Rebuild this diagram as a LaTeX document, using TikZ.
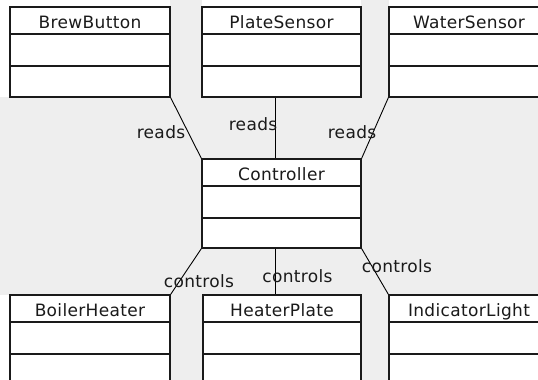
\documentclass[tikz,border=0pt]{standalone}
\usepackage{fontspec}
\setmainfont{DejaVu Sans}[LetterSpace=2]
\usetikzlibrary{calc}
\definecolor{canvas}{HTML}{EEEEEE}
\definecolor{ink}{HTML}{1A1A1A}
\tikzset{
  classbox/.style={draw=ink, line width=1.3pt, fill=white, inner sep=0pt,
    minimum width=160pt, minimum height=90pt,
    path picture={
      \draw[ink, line width=1.3pt]
        ($(path picture bounding box.north west)+(0,27)$) -- ($(path picture bounding box.north east)+(0,27)$)
        ($(path picture bounding box.north west)+(0,59)$) -- ($(path picture bounding box.north east)+(0,59)$);
    }},
  classname/.style={anchor=base, inner sep=0pt, text=ink, font=\fontsize{17}{20}\selectfont},
  assoc/.style={draw=black, line width=0.9pt},
  assoclabel/.style={anchor=base, inner sep=0pt, text=ink, font=\fontsize{17}{20}\selectfont},
  margin/.style={fill=white, draw=none}
}
\begin{document}
\begin{tikzpicture}[x=1pt, y=-1pt]
  \useasboundingbox (0,0) rectangle (538,380);
  \clip (0,0) rectangle (538,380);
  \fill[canvas] (0,0) rectangle (538,380);

  % white margins of the classes that touch the edges of the view
  \fill[margin] (0,0) rectangle (170,97);
  \fill[margin] (202,0) rectangle (361,97);
  \fill[margin] (389,0) rectangle (538,97);
  \fill[margin] (0,295) rectangle (170,380);
  \fill[margin] (203,295) rectangle (361,380);
  \fill[margin] (389,295) rectangle (538,380);

  % classes
  \node[classbox] (brew)   at (90,52)    {};
  \node[classbox, minimum width=159pt] (plate)  at (281.5,52) {};
  \node[classbox] (water)  at (469,52)   {};
  \node[classbox, minimum width=159pt, minimum height=89pt] (ctrl) at (281.5,203.5) {};
  \node[classbox] (boiler) at (90,340)   {};
  \node[classbox, minimum width=158pt] (heater) at (282,340)  {};
  \node[classbox] (light)  at (469,340)  {};

  % class names
  \node[classname] (brewname)   at ($(brew.north)+(0,22)$)   {BrewButton};
  \node[classname] (platename)  at ($(plate.north)+(0,22)$)  {PlateSensor};
  \node[classname] (watername)  at ($(water.north)+(0,22)$)  {WaterSensor};
  \node[classname] (ctrlname)   at ($(ctrl.north)+(0,22)$)   {Controller};
  \node[classname] (boilername) at ($(boiler.north)+(0,22)$) {BoilerHeater};
  \node[classname] (heatername) at ($(heater.north)+(0,22)$) {HeaterPlate};
  \node[classname] (lightname)  at ($(light.north)+(0,22)$)  {IndicatorLight};

  % attachment points of the vertical associations
  \coordinate (platefoot) at ($(plate.south west)+(74,0)$);
  \coordinate (ctrltop)   at ($(ctrl.north west)+(74,0)$);
  \coordinate (ctrlfoot)  at ($(ctrl.south west)+(74,0)$);
  \coordinate (heatertop) at ($(heater.north west)+(73,0)$);

  % associations
  \draw[assoc] (brew.south east) -- (ctrl.north west);
  \draw[assoc] (platefoot) -- (ctrltop);
  \draw[assoc] (water.south west) -- (ctrl.north east);
  \draw[assoc] (ctrl.south west) -- (boiler.north east);
  \draw[assoc] (ctrlfoot) -- (heatertop);
  \draw[assoc] (ctrl.south east) -- (light.north west);

  % association labels
  \node[assoclabel] (r1) at (161,138) {reads};
  \node[assoclabel] (r2) at (253,130) {reads};
  \node[assoclabel] (r3) at (352,138) {reads};
  \node[assoclabel] (c1) at (199,287) {controls};
  \node[assoclabel] (c2) at (297.5,282) {controls};
  \node[assoclabel] (c3) at (397,272) {controls};
\end{tikzpicture}
\end{document}
